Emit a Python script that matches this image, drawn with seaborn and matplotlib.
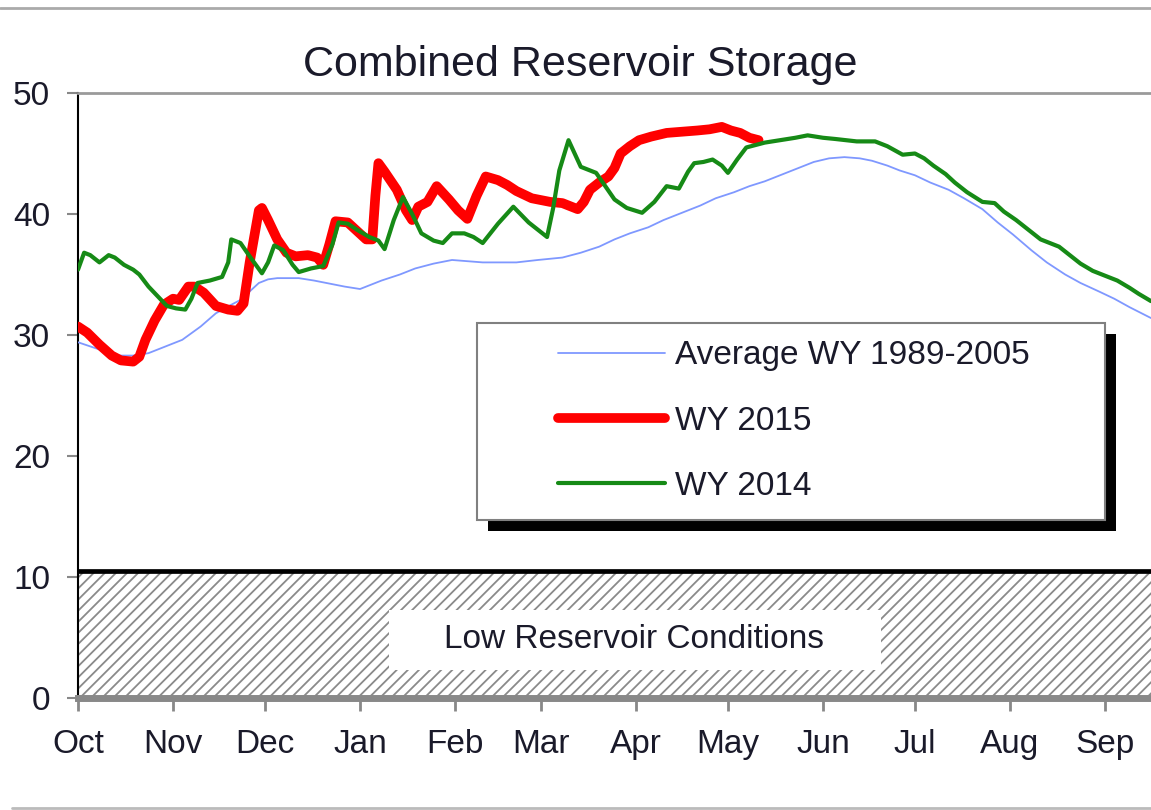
import numpy as np
import pandas as pd
import matplotlib
matplotlib.use("Agg")
import matplotlib.pyplot as plt
import seaborn as sns
from matplotlib.patches import Rectangle
from matplotlib.lines import Line2D

# ---------------- data (day of water year, storage) ----------------
month_days = [0, 31, 61, 92, 123, 151, 182, 212, 243, 273, 304, 335]
month_labels = ["Oct", "Nov", "Dec", "Jan", "Feb", "Mar", "Apr", "May",
                "Jun", "Jul", "Aug", "Sep"]
y_ticks = [0, 10, 20, 30, 40, 50]

avg_days = [0, 7, 13, 18, 23, 28, 34, 40, 45, 50, 53, 56, 59, 62, 65, 72, 77,
            81, 87, 92, 99, 105, 110, 116, 122, 127, 132, 143, 150, 158, 164,
            170, 175, 180, 186, 191, 197, 203, 208, 214, 219, 224, 229, 234,
            240, 245, 250, 255, 259, 264, 268, 273, 278, 284, 289, 295, 300,
            305, 311, 316, 322, 327, 333, 338, 343, 350]
avg_vals = [29.4, 28.8, 28.3, 28.3, 28.5, 29.0, 29.6, 30.7, 31.8, 32.5, 32.9,
            33.6, 34.3, 34.6, 34.7, 34.7, 34.5, 34.3, 34.0, 33.8, 34.5, 35.0,
            35.5, 35.9, 36.2, 36.1, 36.0, 36.0, 36.2, 36.4, 36.8, 37.3, 37.9,
            38.4, 38.9, 39.5, 40.1, 40.7, 41.3, 41.8, 42.3, 42.7, 43.2, 43.7,
            44.3, 44.6, 44.7, 44.6, 44.4, 44.0, 43.6, 43.2, 42.6, 42.0, 41.3,
            40.4, 39.3, 38.3, 37.0, 36.0, 35.0, 34.3, 33.6, 33.0, 32.3, 31.4]

wy2015_days = [0, 3, 7, 11, 14, 18, 20, 22, 25, 28, 31, 33, 36, 38, 41, 45,
               49, 52, 54, 56, 59, 60, 62, 65, 68, 71, 75, 78, 80, 82, 84, 88,
               91, 94, 96, 97, 98, 100, 104, 107, 109, 111, 114, 117, 121, 124,
               127, 130, 133, 137, 140, 143, 148, 154, 158, 163, 165, 167, 170,
               173, 175, 177, 180, 183, 187, 192, 197, 202, 206, 210, 213, 216,
               219, 222]
wy2015_vals = [30.7, 30.2, 29.2, 28.3, 27.9, 27.8, 28.2, 29.6, 31.2, 32.5,
               33.0, 32.9, 34.0, 34.0, 33.5, 32.4, 32.1, 32.0, 32.6, 36.0,
               40.3, 40.5, 39.5, 37.9, 36.8, 36.5, 36.6, 36.4, 35.8, 37.5,
               39.4, 39.3, 38.6, 37.9, 37.9, 41.5, 44.2, 43.5, 42.0, 40.3,
               39.5, 40.6, 41.0, 42.3, 41.2, 40.3, 39.6, 41.5, 43.1, 42.8,
               42.4, 41.9, 41.3, 41.0, 40.9, 40.4, 41.0, 42.0, 42.6, 43.1,
               43.8, 45.0, 45.6, 46.1, 46.4, 46.7, 46.8, 46.9, 47.0, 47.2,
               46.9, 46.7, 46.3, 46.1]

wy2014_days = [0, 2, 4, 7, 10, 12, 15, 18, 20, 23, 26, 29, 32, 35, 37, 39, 43,
               47, 49, 50, 53, 56, 60, 62, 64, 67, 70, 72, 76, 80, 83, 85, 88,
               91, 95, 98, 100, 103, 106, 109, 112, 116, 119, 122, 126, 129,
               132, 137, 142, 147, 150, 153, 155, 157, 160, 162, 164, 169, 172,
               175, 179, 184, 188, 192, 196, 199, 201, 204, 207, 210, 212, 215,
               218, 224, 229, 234, 238, 243, 247, 254, 260, 264, 269, 273, 276,
               279, 283, 286, 290, 295, 299, 302, 306, 310, 314, 317, 320, 324,
               327, 331, 334, 339, 343, 346, 350]
wy2014_vals = [35.4, 36.8, 36.6, 36.0, 36.6, 36.4, 35.8, 35.4, 35.0, 34.0,
               33.2, 32.4, 32.2, 32.1, 33.0, 34.3, 34.5, 34.8, 36.0, 37.9,
               37.6, 36.5, 35.1, 36.0, 37.4, 37.0, 35.8, 35.2, 35.5, 35.7,
               37.5, 39.3, 39.2, 38.7, 38.1, 37.8, 37.1, 39.5, 41.4, 40.0,
               38.4, 37.8, 37.6, 38.4, 38.4, 38.1, 37.6, 39.2, 40.6, 39.3,
               38.7, 38.1, 40.5, 43.6, 46.1, 45.0, 43.9, 43.4, 42.3, 41.2,
               40.5, 40.1, 41.0, 42.3, 42.1, 43.5, 44.2, 44.3, 44.5, 44.0,
               43.4, 44.5, 45.5, 45.9, 46.1, 46.3, 46.5, 46.3, 46.2, 46.0,
               46.0, 45.6, 44.9, 45.0, 44.6, 44.0, 43.3, 42.6, 41.8, 41.0,
               40.9, 40.2, 39.5, 38.7, 37.9, 37.6, 37.3, 36.5, 35.9, 35.3,
               35.0, 34.5, 33.9, 33.4, 32.8]

low_level = 10.5

# ---------------- style ----------------
sns.set_style("white")
plt.rcParams["font.family"] = ["Liberation Sans", "DejaVu Sans"]
plt.rcParams["hatch.color"] = "#8a8a8a"
plt.rcParams["hatch.linewidth"] = 1.3

W, H = 1151, 810
fig = plt.figure(figsize=(W / 100, H / 100), dpi=100)
ax = fig.add_axes([78 / W, 1 - 698 / H, 1073 / W, 605 / H])

# low reservoir zone
ax.axhspan(0, low_level, facecolor="white", edgecolor="#8a8a8a",
           hatch="///", linewidth=0, zorder=1)
ax.axhline(low_level, color="black", lw=3.4, zorder=2)
ax.add_patch(Rectangle((101.5, 2.3), 160.5, 5.0, facecolor="white",
                       edgecolor="none", zorder=2))
ax.text(181.5, 4.8, "Low Reservoir Conditions", ha="center", va="center",
        fontsize=24, color="#1a1a2a", zorder=3)

# series
sns.lineplot(x=avg_days, y=avg_vals, ax=ax, color="#7f98ff", lw=1.3,
             zorder=4, label="Average WY 1989-2005", solid_joinstyle="round")
sns.lineplot(x=wy2015_days, y=wy2015_vals, ax=ax, color="#ff0000", lw=7,
             zorder=4, label="WY 2015", solid_capstyle="round",
             solid_joinstyle="round")
sns.lineplot(x=wy2014_days, y=wy2014_vals, ax=ax, color="#168a16", lw=3,
             zorder=4.5, label="WY 2014", solid_joinstyle="round")

ax.set_xlim(0, 350)
ax.set_ylim(0, 50)
ax.set_xticks(month_days)
ax.set_xticklabels(month_labels)
ax.set_yticks(y_ticks)
ax.set_xlabel("")
ax.set_ylabel("")

ax.spines["right"].set_visible(False)
ax.spines["left"].set_color("black")
ax.spines["left"].set_linewidth(1.5)
ax.spines["top"].set_color("#9a9a9a")
ax.spines["top"].set_linewidth(2)
ax.spines["bottom"].set_color("#888888")
ax.spines["bottom"].set_linewidth(5)
ax.spines["bottom"].set_zorder(5)

ax.tick_params(axis="y", length=8, width=1.5, color="#888888", pad=12,
               labelsize=24, labelcolor="#1a1a2a", left=True)
ax.tick_params(axis="x", length=9, width=2, color="#888888", pad=13,
               labelsize=24, labelcolor="#1a1a2a", bottom=True)

ax.set_title("Combined Reservoir Storage", fontsize=31, x=(580 - 78) / 1073,
             pad=12, color="#1a1a2a")

# legend with frame + black drop shadow
fx0, fx1 = (477 - 78) / 1073, (1105 - 78) / 1073
fy0, fy1 = (698 - 520) / 605, (698 - 323) / 605
dx, dy = 11 / 1073, 11 / 605
ax.add_patch(Rectangle((fx0 + dx, fy0 - dy), fx1 - fx0, fy1 - fy0,
                       transform=ax.transAxes, facecolor="black",
                       edgecolor="none", zorder=6, clip_on=False))
ax.add_patch(Rectangle((fx0, fy0), fx1 - fx0, fy1 - fy0,
                       transform=ax.transAxes, facecolor="white",
                       edgecolor="#808080", lw=1.5, zorder=6.5, clip_on=False))
handles, labels = ax.get_legend_handles_labels()
leg = ax.legend(handles, labels, frameon=False, loc="center left",
                bbox_to_anchor=((558 - 78) / 1073, (698 - 421) / 605),
                borderpad=0, borderaxespad=0, handlelength=3.2,
                handletextpad=0.3, labelspacing=1.03, fontsize=24)
for t in leg.get_texts():
    t.set_color("#1a1a2a")
leg.set_zorder(7)

# page rules
fig.add_artist(Line2D([0, 1], [1 - 8 / H] * 2, color="#aaaaaa", lw=2,
                      transform=fig.transFigure))
fig.add_artist(Line2D([0.01, 1], [2 / H] * 2, color="#bbbbbb", lw=2,
                      transform=fig.transFigure))

fig.savefig("out.png", dpi=100)
